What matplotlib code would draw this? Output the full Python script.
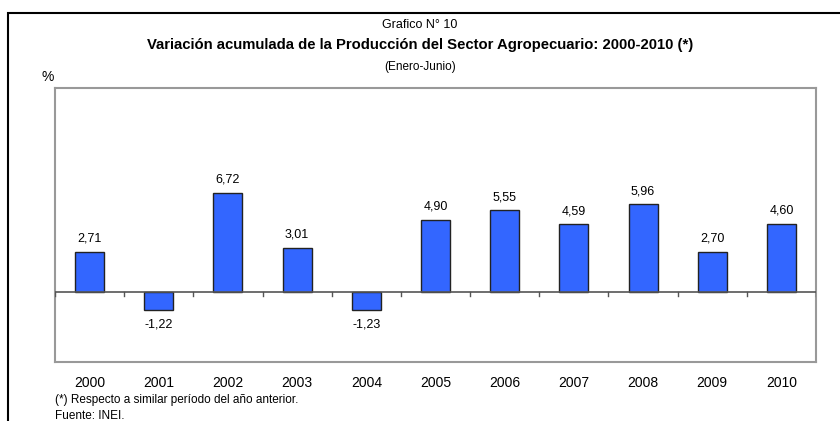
import numpy as np
import matplotlib.pyplot as plt
from matplotlib.patches import Rectangle

years = ['2000', '2001', '2002', '2003', '2004', '2005', '2006', '2007', '2008', '2009', '2010']
values = [2.71, -1.22, 6.72, 3.01, -1.23, 4.90, 5.55, 4.59, 5.96, 2.70, 4.60]
labels = [f'{v:.2f}'.replace('.', ',') for v in values]

plt.rcParams['font.family'] = ['Liberation Sans', 'DejaVu Sans']

fig = plt.figure(figsize=(8.4, 4.21), dpi=100)

# outer frame (open to the right/bottom like the crop)
fig.patches.append(Rectangle((8 / 840, -0.05), 1.0, 1 - 13 / 421 + 0.05,
                             transform=fig.transFigure, fill=False,
                             edgecolor='black', linewidth=1.5))

ax = fig.add_axes([55 / 840, 59 / 421, 761 / 840, 274 / 421])
x = np.arange(len(years))
ax.bar(x, values, width=0.42, color='#3366FF', edgecolor='#222222', linewidth=1.0, zorder=3)
ax.set_xlim(-0.5, len(years) - 0.5)
ax.set_ylim(-4.8, 13.9)

ax.axhline(0, color='#555555', linewidth=1.2, zorder=4)
for b in np.arange(-0.5, len(years), 1.0):
    ax.plot([b, b], [0, -0.3], color='#555555', linewidth=1.0, zorder=4)

for xi, v, lab in zip(x, values, labels):
    if v >= 0:
        ax.text(xi, v + 0.5, lab, ha='center', va='bottom', fontsize=9)
    else:
        ax.text(xi, v - 0.6, lab, ha='center', va='top', fontsize=9)

ax.set_xticks(x)
ax.set_xticklabels(years, fontsize=10)
ax.tick_params(axis='x', length=0, pad=10)
ax.set_yticks([])
for s in ax.spines.values():
    s.set_color('#999999')
    s.set_linewidth(1.5)

fig.text(0.5, 1 - 25 / 421, 'Grafico N° 10', ha='center', va='center', fontsize=9)
fig.text(0.5, 1 - 45 / 421, 'Variación acumulada de la Producción del Sector Agropecuario: 2000-2010 (*)',
         ha='center', va='center', fontsize=10.7, fontweight='bold')
fig.text(0.5, 1 - 67 / 421, '(Enero-Junio)', ha='center', va='center', fontsize=8.5)
fig.text(42 / 840, 1 - 77 / 421, '%', ha='left', va='center', fontsize=10)
fig.text(55 / 840, 1 - 400 / 421, '(*) Respecto a similar período del año anterior.',
         ha='left', va='center', fontsize=8.5)
fig.text(55 / 840, 1 - 416 / 421, 'Fuente: INEI.', ha='left', va='center', fontsize=8.5)

fig.savefig('out.png', dpi=100)
